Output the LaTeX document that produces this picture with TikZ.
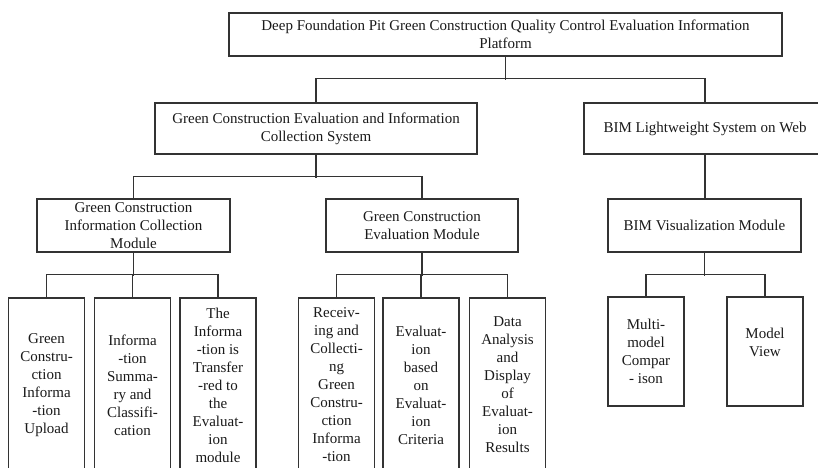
\documentclass[tikz,border=0pt]{standalone}
\usepackage{fontspec}
\setmainfont{Liberation Serif}
\definecolor{linec}{HTML}{333333}
\definecolor{textc}{HTML}{1A1A1A}
\begin{document}
\begin{tikzpicture}[x=1pt,y=-1pt,
  box/.style={draw=linec, line width=1.2pt, inner sep=0pt, align=center,
    font=\fontsize{15}{18}\selectfont, text=textc},
  conn/.style={draw=linec, line width=1.3pt}]
\useasboundingbox (0,0) rectangle (818,467);
\clip (0,0) rectangle (818,467);
\fill[white] (0,0) rectangle (818,467);
% level 1
\node[box, minimum width=553pt, minimum height=43pt] (top) at (505.5,34.5)
  {Deep Foundation Pit Green Construction Quality Control Evaluation Information\\Platform};
% level 2
\node[box, minimum width=322pt, minimum height=51pt] (l2a) at (316,128.5)
  {Green Construction Evaluation and Information\\Collection System};
\node[box, minimum width=242pt, minimum height=51pt] (l2b) at (705,128.5)
  {BIM Lightweight System on Web};
% level 3
\node[box, minimum width=193pt, minimum height=53pt] (l3a) at (133.5,225.5)
  {Green Construction\\Information Collection\\Module};
\node[box, minimum width=192pt, minimum height=53pt] (l3b) at (422,225.5)
  {Green Construction\\Evaluation Module};
\node[box, minimum width=193pt, minimum height=53pt] (l3c) at (704.5,225.5)
  {BIM Visualization Module};
% leaves
\tikzset{leafl/.style={box, minimum width=76pt, minimum height=174pt},
         leafr/.style={box, minimum width=76pt, minimum height=109pt}}
\node[leafl] (f1) at (46.5,385) {Green\\Constru-\\ction\\Informa\\-tion\\Upload};
\node[leafl] (f2) at (132.5,385) {Informa\\-tion\\Summa-\\ry and\\Classifi-\\cation};
\node[leafl] (f3) at (218,385) {The\\Informa\\-tion is\\Transfer\\-red to\\the\\Evaluat-\\ion\\module};
\node[leafl] (f4) at (336.5,385) {Receiv-\\ing and\\Collecti-\\ng\\Green\\Constru-\\ction\\Informa\\-tion};
\node[leafl] (f5) at (421,385) {Evaluat-\\ion\\based\\on\\Evaluat-\\ion\\Criteria};
\node[leafl] (f6) at (507.5,385) {Data\\Analysis\\and\\Display\\of\\Evaluat-\\ion\\Results};
\node[leafr] (f7) at (646,351.5) {Multi-\\model\\Compar\\- ison};
\node[leafr] (f8) at (765,351.5) {Model\\View\\\mbox{}};
% connectors
\draw[conn] (top.south) -- ++(0,23);
\draw[conn] (l2a.north) -- ++(0,-24) -| (l2b.north);
\draw[conn] (l2a.south) -- ++(0,23);
\draw[conn] (l3a.north) -- ++(0,-22) -| (l3b.north);
\draw[conn] (l2b.south) -- (l2b.south |- l3c.north);
\draw[conn] (l3a.south) -- ++(0,23);
\draw[conn] (f1.north) -- ++(0,-23) -| (f3.north);
\draw[conn] (f2.north) -- ++(0,-23);
\draw[conn] (l3b.south) -- ++(0,23);
\draw[conn] (f4.north) -- ++(0,-23) -| (f6.north);
\draw[conn] (f5.north) -- ++(0,-23);
\draw[conn] (l3c.south) -- ++(0,23);
\draw[conn] (f7.north) -- ++(0,-22) -| (f8.north);
\end{tikzpicture}
\end{document}
